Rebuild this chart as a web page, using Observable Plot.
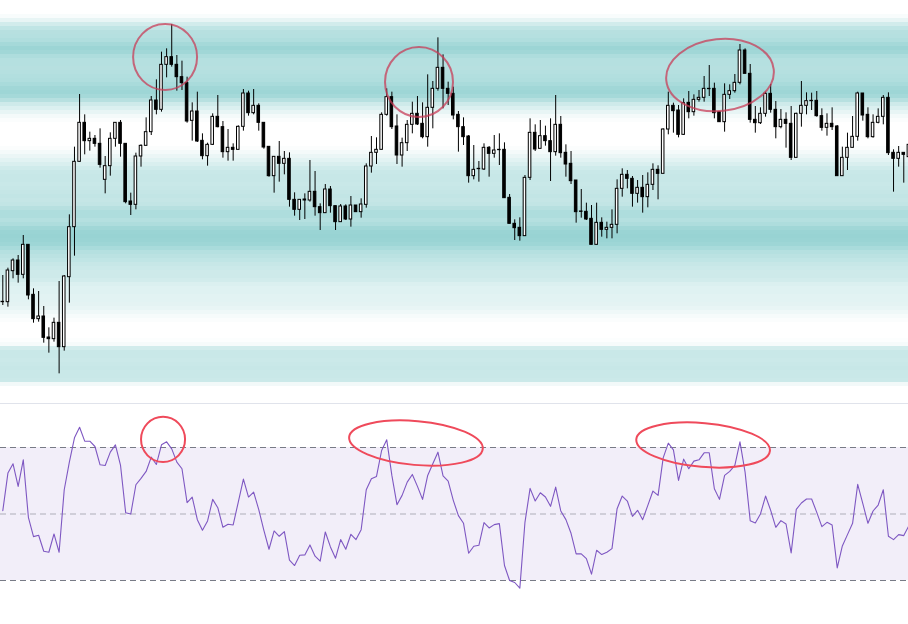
<!DOCTYPE html>
<html>
<head>
<meta charset="utf-8">
<script src="https://cdn.jsdelivr.net/npm/d3@7"></script>
<script src="https://cdn.jsdelivr.net/npm/@observablehq/plot@0.6"></script>
<style>
  html, body { margin: 0; padding: 0; background: #fff; overflow: hidden; }
  #wrap { width: 908px; }
  #sep { height: 1px; background: #e0e3eb; }
  svg { display: block; }
</style>
</head>
<body>
<div id="wrap">
  <div id="top"></div>
  <div id="sep"></div>
  <div id="bottom"></div>
</div>
<script>
// ---- Price data (price points) ----
const open = [
235,235,328,360,317,407,257,184,192,129,
124,173,100,310,460,656,773,718,725,710,
602,643,725,773,710,537,527,672,704,745,
840,812,947,970,947,910,892,779,807,719,
673,707,791,760,685,698,692,761,861,802,
824,773,701,613,671,650,665,542,512,540,
540,566,520,502,573,523,475,522,483,525,
505,527,642,683,692,797,850,762,675,712,
767,800,770,730,818,875,938,875,860,797,
760,732,613,634,633,698,680,691,692,548,
470,458,433,608,743,695,733,718,685,767,
683,650,600,507,506,485,407,473,452,458,
467,575,617,605,560,578,550,587,632,620,
753,824,810,737,833,805,842,848,874,875,
805,775,857,868,893,990,920,782,772,800,
860,812,760,782,770,668,800,824,838,839,
793,758,770,762,613,668,698,731,861,797,
730,773,791,848,683,665,683,670];
const close = [
236,330,360,317,407,255,184,192,128,124,
173,100,312,460,656,773,718,725,710,647,
643,725,773,710,535,527,672,704,745,840,
812,947,970,947,910,892,777,807,717,673,
707,791,760,685,698,692,761,861,802,824,
773,699,613,671,650,665,542,512,542,543,
566,520,502,573,523,475,522,483,525,505,
528,642,683,692,797,850,760,675,712,767,
800,768,730,818,875,938,875,860,795,760,
730,613,632,635,698,680,690,692,547,470,
457,433,608,743,693,733,718,685,767,682,
648,598,505,506,483,407,473,452,458,467,
575,617,605,560,578,550,587,632,620,753,
824,808,737,832,805,842,848,875,875,802,
775,857,868,893,990,920,782,772,800,860,
812,760,782,770,668,800,824,838,839,793,
758,770,760,613,668,698,731,861,795,730,
773,791,848,682,665,683,677,707];
const high = [
315,337,365,375,435,407,275,267,222,158,
187,297,315,497,700,858,797,745,735,755,
672,743,773,780,710,562,682,707,788,852,
902,985,995,1068,975,958,910,833,865,740,
712,800,855,777,753,710,764,873,868,873,
830,773,701,671,717,687,683,563,542,560,
660,627,530,588,582,523,528,527,552,525,
545,650,732,728,803,875,865,797,727,780,
835,852,833,917,897,1028,977,895,880,807,
788,735,705,657,710,702,735,740,713,558,
482,488,615,785,767,780,763,785,855,792,
707,687,600,573,532,525,532,488,475,512,
602,635,630,612,600,615,623,650,644,755,
865,832,825,845,867,857,870,912,945,892,
805,890,887,918,1008,995,948,822,818,865,
888,837,813,803,822,802,897,863,862,867,
815,800,818,765,700,742,792,865,861,818,
797,815,855,863,692,702,683,710];
const low = [
225,220,305,292,305,242,172,175,112,82,
115,20,88,232,373,655,677,688,700,637,
560,613,700,670,530,495,512,640,704,735,
797,805,908,940,868,870,772,718,714,662,
643,705,758,667,658,658,691,748,793,797,
748,694,610,562,595,617,520,493,480,483,
535,493,450,502,502,450,475,480,460,505,
487,517,622,648,692,793,753,648,640,687,
740,765,725,700,755,868,815,825,782,685,
705,592,602,595,630,610,667,645,547,470,
420,418,433,600,687,695,703,597,673,667,
610,588,472,487,480,407,407,430,425,425,
440,550,575,520,532,502,518,570,542,620,
737,742,728,735,785,793,835,835,852,785,
775,745,843,862,887,920,772,742,768,790,
802,725,755,697,660,667,760,797,810,790,
748,733,750,613,613,630,698,718,778,725,
727,770,767,675,565,640,592,665];

// ---- RSI values ----
const rsi = [
51.0,62.3,65.1,58.3,66.3,49.0,43.2,43.6,38.8,38.5,
44.0,38.5,57.3,65.6,72.9,76.1,71.9,71.9,70.3,64.8,
64.6,68.6,70.8,64.6,50.4,50.0,58.8,60.7,62.8,67.1,
64.9,70.8,71.7,69.6,65.6,63.6,53.4,55.1,48.3,45.1,
47.9,54.4,51.9,46.0,46.9,46.7,53.6,60.5,55.1,56.6,
51.3,45.1,39.4,44.9,43.3,44.7,36.1,34.5,37.6,37.7,
40.7,37.3,35.8,44.6,40.1,36.7,42.3,39.4,43.9,42.3,
45.3,57.3,60.6,61.3,69.1,72.3,61.6,52.8,55.6,59.6,
61.9,58.3,54.4,61.6,65.1,68.6,61.5,59.9,54.1,49.5,
47.2,38.2,40.3,40.6,47.4,45.8,46.8,47.1,34.5,30.0,
29.4,27.7,47.5,57.7,53.9,56.4,55.1,52.3,58.1,50.9,
48.3,44.2,38.0,38.0,36.6,31.9,39.1,37.8,38.5,39.6,
51.6,55.4,53.9,49.3,51.1,48.3,52.6,56.9,55.6,66.9,
71.3,69.3,60.1,66.5,63.6,65.9,66.3,68.4,68.4,57.6,
54.4,61.6,62.8,64.6,71.7,62.6,48.0,47.3,50.0,55.4,
51.1,46.0,48.0,47.0,38.3,51.4,53.3,54.5,54.5,50.5,
46.2,47.5,46.7,33.8,40.4,43.8,47.2,58.9,53.1,47.2,
50.9,52.7,57.3,43.3,42.3,43.8,43.5,46.5];
const rsiLevels = [70, 50, 30];
const rsiZone = [{lo: 30, hi: 70}];

// ---- Price-level density profile (background bands) ----
const bandTop = 1098;   // highest price level of the profile
const bandStep = 12;    // price points per level
const bandAlpha = [
0.03,0.10,0.20,0.28,0.32,0.33,0.35,0.40,0.44,0.42,
0.36,0.33,0.33,0.32,0.33,0.34,0.35,0.38,0.42,0.43,
0.40,0.32,0.22,0.16,0.10,0.05,0.02,0,0,0,
0,0,0,0.02,0.05,0.09,0.13,0.17,0.21,0.24,
0.25,0.25,0.24,0.25,0.26,0.27,0.26,0.27,0.32,0.36,
0.36,0.33,0.36,0.42,0.45,0.46,0.45,0.43,0.38,0.33,
0.30,0.28,0.25,0.23,0.22,0.22,0.20,0.16,0.14,0.14,
0.13,0.13,0.12,0.10,0.07,0.04,0.02,0,0,0,
0,0.01,0.04,0.20,0.24,0.24,0.23,0.24,0.25,0.24,
0.24,0.23,0.06];

// ---- Highlight annotations (candle index, level, radii) ----
const priceHighlights = [
  {i: 31.8, v: 969, rx: 6.25, ry: 99, tilt: 0},
  {i: 81.4, v: 894, rx: 6.64, ry: 105, tilt: 0},
  {i: 140.2, v: 915, rx: 10.55, ry: 108, tilt: -6}
];
const rsiHighlights = [
  {i: 31.4, v: 72.3, rx: 4.3, ry: 6.8, tilt: 0},
  {i: 80.8, v: 71.2, rx: 13.1, ry: 6.6, tilt: 5},
  {i: 136.9, v: 70.6, rx: 13.1, ry: 6.6, tilt: 5}
];

// ---- Build tables ----
const candles = open.map((o, i) => ({i, o, c: close[i], h: high[i], l: low[i], up: close[i] >= open[i]}));
const rsiData = rsi.map((v, i) => ({i, v}));
const bands = bandAlpha.map((a, k) => ({y2: bandTop - k * bandStep, y1: bandTop - (k + 1) * bandStep, a}));

const N = open.length;
const xScale = {domain: [0, N - 1], range: [2.3, 908.4], axis: null};

function ellipses(list, color, opacity) {
  return (index, scales) => {
    const g = d3.create("svg:g");
    for (const e of list) {
      const cx = scales.x(e.i), cy = scales.y(e.v);
      const rx = Math.abs(scales.x(e.i + e.rx) - cx);
      const ry = Math.abs(scales.y(e.v + e.ry) - cy);
      g.append("ellipse")
        .attr("cx", cx).attr("cy", cy).attr("rx", rx).attr("ry", ry)
        .attr("transform", `rotate(${e.tilt} ${cx} ${cy})`)
        .attr("fill", "none").attr("stroke", color)
        .attr("stroke-opacity", opacity).attr("stroke-width", 2);
    }
    return g.node();
  };
}

const topChart = Plot.plot({
  width: 908,
  height: 403,
  margin: 0,
  x: xScale,
  y: {domain: [0, 1080], range: [380, 20], axis: null},
  marks: [
    Plot.rect(bands, {y1: "y1", y2: "y2", fill: "#1ea0a0", fillOpacity: "a", shapeRendering: "crispEdges"}),
    Plot.ruleX(candles, {x: "i", y1: "l", y2: "h", stroke: "#000", strokeWidth: 1}),
    Plot.rect(candles, {
      x1: d => d.i - 0.25, x2: d => d.i + 0.25, y1: "o", y2: "c",
      fill: d => d.up ? "#fff" : "#000", stroke: "#000", strokeWidth: 1
    }),
    ellipses(priceHighlights, "rgb(200,62,88)", 0.75)
  ]
});
document.getElementById("top").appendChild(topChart);

const bottomChart = Plot.plot({
  width: 908,
  height: 220,
  margin: 0,
  x: xScale,
  y: {domain: [30, 70], range: [176, 43], axis: null},
  marks: [
    Plot.rect(rsiZone, {y1: "lo", y2: "hi", fill: "#7e57c2", fillOpacity: 0.1}),
    Plot.ruleY(rsiLevels, {stroke: "#787b86", strokeOpacity: d => d === 50 ? 0.55 : 1, strokeDasharray: "6,4", strokeWidth: 1}),
    Plot.line(rsiData, {x: "i", y: "v", stroke: "#7e57c2", strokeWidth: 1.1}),
    ellipses(rsiHighlights, "#ef4a5b", 1)
  ]
});
document.getElementById("bottom").appendChild(bottomChart);
</script>
</body>
</html>
